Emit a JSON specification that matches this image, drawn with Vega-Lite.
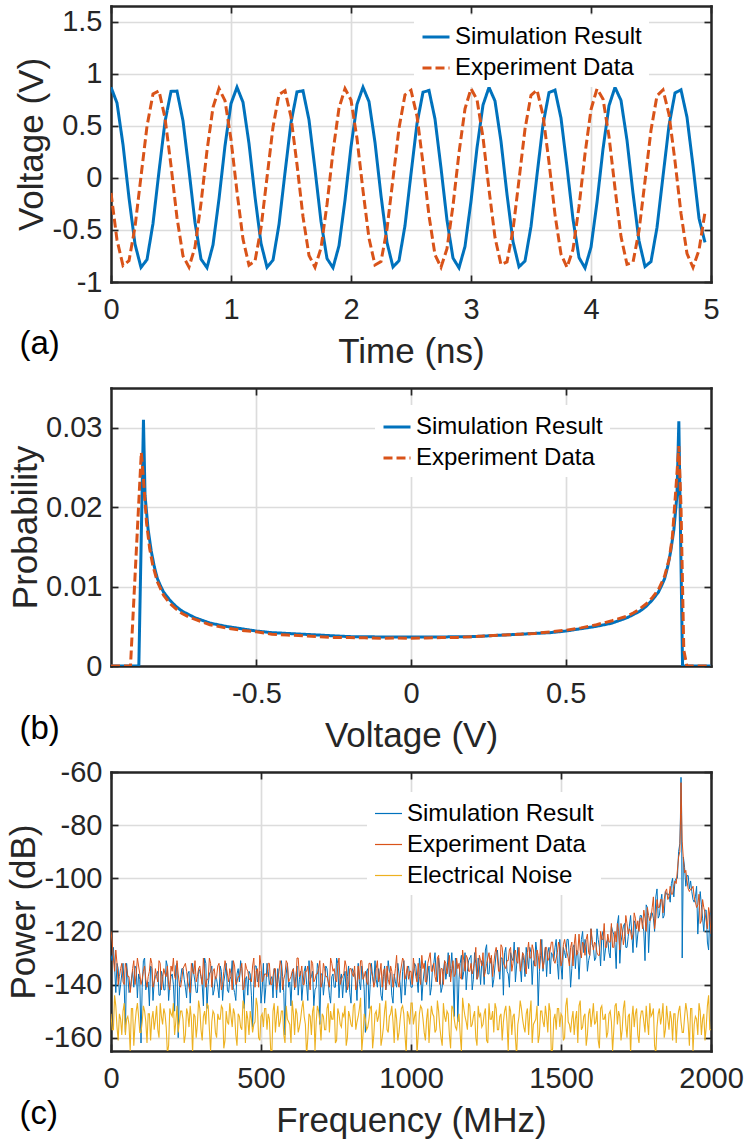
{
"$schema": "https://vega.github.io/schema/vega-lite/v6.json",
"padding": {"left": 5, "top": 5, "right": 5, "bottom": 5},
"config": {
 "font": "Liberation Sans",
 "view": {"stroke": null},
 "axis": {"labelFont": "Liberation Sans", "labelFontSize": 29, "labelColor": "#262626", "titleFont": "Liberation Sans", "titleFontSize": 35, "titleFontWeight": "normal", "titleColor": "#262626", "tickColor": "#262626", "tickWidth": 1.7, "tickSize": -7, "domainColor": "#262626", "domainWidth": 2.5, "domainCap": "square", "gridColor": "#dcdcdc", "gridWidth": 1.7, "labelFlush": false, "labelOverlap": false, "labelBound": false},
 "axisBottom": {"labelBaseline": "alphabetic", "labelPadding": 43.6, "titleBaseline": "alphabetic", "titleY": 80, "titleX": 300, "titleAlign": "center"},
 "axisLeft": {"labelPadding": 16, "titleAngle": -90, "titleBaseline": "alphabetic", "titleAlign": "center"},
 "axisTop": {"labels": false, "grid": false, "titleAngle": 0, "titleAlign": "left", "titleBaseline": "alphabetic", "titleX": -92, "titleColor": "#000000", "titleFontSize": 33},
 "axisRight": {"labels": false, "grid": false},
 "legend": {"orient": "none", "fillColor": "#ffffff", "padding": 7, "symbolType": "stroke", "symbolSize": 729, "labelFont": "Liberation Sans", "labelFontSize": 24, "labelColor": "#000000", "labelOffset": 4, "rowPadding": 4, "labelLimit": 400}
},
"datasets": {
"waveSim": [{"t":0,"v":0.870},{"t":0.05,"v":0.719},{"t":0.1,"v":0.319},{"t":0.15,"v":-0.192},{"t":0.2,"v":-0.636},{"t":0.25,"v":-0.860},{"t":0.3,"v":-0.785},{"t":0.35,"v":-0.438},{"t":0.4,"v":0.061},{"t":0.45,"v":0.539},{"t":0.5,"v":0.830},{"t":0.55,"v":0.833},{"t":0.6,"v":0.548},{"t":0.65,"v":0.072},{"t":0.7,"v":-0.428},{"t":0.75,"v":-0.780},{"t":0.8,"v":-0.862},{"t":0.85,"v":-0.644},{"t":0.9,"v":-0.203},{"t":0.95,"v":0.308},{"t":1,"v":0.713},{"t":1.05,"v":0.870},{"t":1.1,"v":0.726},{"t":1.15,"v":0.329},{"t":1.2,"v":-0.181},{"t":1.25,"v":-0.629},{"t":1.3,"v":-0.858},{"t":1.35,"v":-0.790},{"t":1.4,"v":-0.448},{"t":1.45,"v":0.049},{"t":1.5,"v":0.530},{"t":1.55,"v":0.826},{"t":1.6,"v":0.836},{"t":1.65,"v":0.556},{"t":1.7,"v":0.083},{"t":1.75,"v":-0.418},{"t":1.8,"v":-0.775},{"t":1.85,"v":-0.863},{"t":1.9,"v":-0.652},{"t":1.95,"v":-0.214},{"t":2,"v":0.298},{"t":2.05,"v":0.706},{"t":2.1,"v":0.870},{"t":2.15,"v":0.732},{"t":2.2,"v":0.340},{"t":2.25,"v":-0.170},{"t":2.3,"v":-0.621},{"t":2.35,"v":-0.856},{"t":2.4,"v":-0.795},{"t":2.45,"v":-0.458},{"t":2.5,"v":0.038},{"t":2.55,"v":0.521},{"t":2.6,"v":0.823},{"t":2.65,"v":0.839},{"t":2.7,"v":0.565},{"t":2.75,"v":0.095},{"t":2.8,"v":-0.408},{"t":2.85,"v":-0.770},{"t":2.9,"v":-0.864},{"t":2.95,"v":-0.659},{"t":3,"v":-0.225},{"t":3.05,"v":0.287},{"t":3.1,"v":0.699},{"t":3.15,"v":0.869},{"t":3.2,"v":0.738},{"t":3.25,"v":0.350},{"t":3.3,"v":-0.159},{"t":3.35,"v":-0.612},{"t":3.4,"v":-0.854},{"t":3.45,"v":-0.799},{"t":3.5,"v":-0.467},{"t":3.55,"v":0.027},{"t":3.6,"v":0.511},{"t":3.65,"v":0.819},{"t":3.7,"v":0.842},{"t":3.75,"v":0.574},{"t":3.8,"v":0.106},{"t":3.85,"v":-0.398},{"t":3.9,"v":-0.765},{"t":3.95,"v":-0.866},{"t":4,"v":-0.666},{"t":4.05,"v":-0.236},{"t":4.1,"v":0.276},{"t":4.15,"v":0.693},{"t":4.2,"v":0.869},{"t":4.25,"v":0.744},{"t":4.3,"v":0.361},{"t":4.35,"v":-0.147},{"t":4.4,"v":-0.604},{"t":4.45,"v":-0.852},{"t":4.5,"v":-0.804},{"t":4.55,"v":-0.477},{"t":4.6,"v":0.015},{"t":4.65,"v":0.502},{"t":4.7,"v":0.815},{"t":4.75,"v":0.845},{"t":4.8,"v":0.582},{"t":4.85,"v":0.117},{"t":4.9,"v":-0.388},{"t":4.95,"v":-0.62}],
"waveExp": [{"t":0,"v":-0.145},{"t":0.05,"v":-0.597},{"t":0.1,"v":-0.842},{"t":0.15,"v":-0.795},{"t":0.2,"v":-0.472},{"t":0.25,"v":0.014},{"t":0.3,"v":0.496},{"t":0.35,"v":0.805},{"t":0.4,"v":0.835},{"t":0.45,"v":0.576},{"t":0.5,"v":0.117},{"t":0.55,"v":-0.383},{"t":0.6,"v":-0.750},{"t":0.65,"v":-0.857},{"t":0.7,"v":-0.666},{"t":0.75,"v":-0.245},{"t":0.8,"v":0.261},{"t":0.85,"v":0.677},{"t":0.9,"v":0.858},{"t":0.95,"v":0.741},{"t":1,"v":0.368},{"t":1.05,"v":-0.134},{"t":1.1,"v":-0.589},{"t":1.15,"v":-0.839},{"t":1.2,"v":-0.799},{"t":1.25,"v":-0.482},{"t":1.3,"v":0.003},{"t":1.35,"v":0.487},{"t":1.4,"v":0.801},{"t":1.45,"v":0.838},{"t":1.5,"v":0.584},{"t":1.55,"v":0.128},{"t":1.6,"v":-0.373},{"t":1.65,"v":-0.745},{"t":1.7,"v":-0.858},{"t":1.75,"v":-0.674},{"t":1.8,"v":-0.256},{"t":1.85,"v":0.251},{"t":1.9,"v":0.670},{"t":1.95,"v":0.857},{"t":2,"v":0.747},{"t":2.05,"v":0.378},{"t":2.1,"v":-0.123},{"t":2.15,"v":-0.580},{"t":2.2,"v":-0.837},{"t":2.25,"v":-0.803},{"t":2.3,"v":-0.491},{"t":2.35,"v":-0.008},{"t":2.4,"v":0.477},{"t":2.45,"v":0.797},{"t":2.5,"v":0.841},{"t":2.55,"v":0.593},{"t":2.6,"v":0.139},{"t":2.65,"v":-0.363},{"t":2.7,"v":-0.739},{"t":2.75,"v":-0.858},{"t":2.8,"v":-0.680},{"t":2.85,"v":-0.266},{"t":2.9,"v":0.240},{"t":2.95,"v":0.663},{"t":3,"v":0.856},{"t":3.05,"v":0.752},{"t":3.1,"v":0.388},{"t":3.15,"v":-0.112},{"t":3.2,"v":-0.572},{"t":3.25,"v":-0.834},{"t":3.3,"v":-0.807},{"t":3.35,"v":-0.500},{"t":3.4,"v":-0.020},{"t":3.45,"v":0.468},{"t":3.5,"v":0.793},{"t":3.55,"v":0.843},{"t":3.6,"v":0.601},{"t":3.65,"v":0.150},{"t":3.7,"v":-0.353},{"t":3.75,"v":-0.733},{"t":3.8,"v":-0.859},{"t":3.85,"v":-0.687},{"t":3.9,"v":-0.277},{"t":3.95,"v":0.229},{"t":4,"v":0.656},{"t":4.05,"v":0.855},{"t":4.1,"v":0.758},{"t":4.15,"v":0.398},{"t":4.2,"v":-0.100},{"t":4.25,"v":-0.564},{"t":4.3,"v":-0.831},{"t":4.35,"v":-0.811},{"t":4.4,"v":-0.509},{"t":4.45,"v":-0.031},{"t":4.5,"v":0.458},{"t":4.55,"v":0.788},{"t":4.6,"v":0.845},{"t":4.65,"v":0.609},{"t":4.7,"v":0.161},{"t":4.75,"v":-0.342},{"t":4.8,"v":-0.727},{"t":4.85,"v":-0.860},{"t":4.9,"v":-0.694},{"t":4.95,"v":-0.33}],
"pdfSim": [{"x":-0.97,"p":0},{"x":-0.88,"p":0},{"x":-0.865,"p":0.031},{"x":-0.86,"p":0.0215},{"x":-0.85,"p":0.0172},{"x":-0.84,"p":0.0145},{"x":-0.83,"p":0.0125},{"x":-0.82,"p":0.011},{"x":-0.81,"p":0.0101},{"x":-0.8,"p":0.0093},{"x":-0.78,"p":0.0083},{"x":-0.76,"p":0.0075},{"x":-0.74,"p":0.0069},{"x":-0.72,"p":0.0065},{"x":-0.7,"p":0.0061},{"x":-0.65,"p":0.0054},{"x":-0.6,"p":0.005},{"x":-0.55,"p":0.0047},{"x":-0.5,"p":0.0044},{"x":-0.45,"p":0.0042},{"x":-0.4,"p":0.0041},{"x":-0.35,"p":0.004},{"x":-0.3,"p":0.0039},{"x":-0.25,"p":0.0038},{"x":-0.2,"p":0.0037},{"x":-0.15,"p":0.00368},{"x":-0.1,"p":0.00366},{"x":-0.05,"p":0.00365},{"x":0,"p":0.00364},{"x":0.05,"p":0.00365},{"x":0.1,"p":0.00366},{"x":0.15,"p":0.00368},{"x":0.2,"p":0.0037},{"x":0.25,"p":0.0038},{"x":0.3,"p":0.0039},{"x":0.35,"p":0.004},{"x":0.4,"p":0.0041},{"x":0.45,"p":0.0042},{"x":0.5,"p":0.0044},{"x":0.55,"p":0.0047},{"x":0.6,"p":0.005},{"x":0.65,"p":0.0054},{"x":0.7,"p":0.0061},{"x":0.72,"p":0.0065},{"x":0.74,"p":0.0069},{"x":0.76,"p":0.0075},{"x":0.78,"p":0.0083},{"x":0.8,"p":0.0093},{"x":0.81,"p":0.0101},{"x":0.82,"p":0.011},{"x":0.83,"p":0.0125},{"x":0.84,"p":0.0145},{"x":0.85,"p":0.0172},{"x":0.86,"p":0.0215},{"x":0.866,"p":0.0308},{"x":0.878,"p":0},{"x":0.97,"p":0}],
"pdfExp": [{"x":-0.97,"p":0},{"x":-0.907,"p":0},{"x":-0.872,"p":0.0269},{"x":-0.865,"p":0.0235},{"x":-0.855,"p":0.018},{"x":-0.845,"p":0.0148},{"x":-0.835,"p":0.0127},{"x":-0.82,"p":0.0106},{"x":-0.8,"p":0.0089},{"x":-0.78,"p":0.0079},{"x":-0.76,"p":0.0072},{"x":-0.74,"p":0.0066},{"x":-0.72,"p":0.0062},{"x":-0.7,"p":0.0059},{"x":-0.65,"p":0.0052},{"x":-0.6,"p":0.0048},{"x":-0.55,"p":0.0045},{"x":-0.5,"p":0.0043},{"x":-0.45,"p":0.004},{"x":-0.4,"p":0.0039},{"x":-0.35,"p":0.0038},{"x":-0.3,"p":0.0037},{"x":-0.25,"p":0.0036},{"x":-0.2,"p":0.00358},{"x":-0.15,"p":0.00355},{"x":-0.1,"p":0.0035},{"x":-0.05,"p":0.00352},{"x":0,"p":0.0035},{"x":0.05,"p":0.00352},{"x":0.1,"p":0.00358},{"x":0.15,"p":0.0036},{"x":0.2,"p":0.0037},{"x":0.25,"p":0.0038},{"x":0.3,"p":0.0039},{"x":0.35,"p":0.004},{"x":0.4,"p":0.0041},{"x":0.45,"p":0.0043},{"x":0.5,"p":0.0045},{"x":0.55,"p":0.0048},{"x":0.6,"p":0.0052},{"x":0.65,"p":0.0057},{"x":0.7,"p":0.0063},{"x":0.72,"p":0.0067},{"x":0.74,"p":0.0072},{"x":0.76,"p":0.0078},{"x":0.78,"p":0.0086},{"x":0.8,"p":0.0096},{"x":0.82,"p":0.0113},{"x":0.835,"p":0.0135},{"x":0.845,"p":0.0162},{"x":0.855,"p":0.0215},{"x":0.866,"p":0.0277},{"x":0.873,"p":0.02},{"x":0.882,"p":0.002},{"x":0.892,"p":0},{"x":0.97,"p":0}],
"specSim": [{"f":0,"p":-129},{"f":8,"p":-126},{"f":16,"p":-143},{"f":24,"p":-134},{"f":32,"p":-140},{"f":40,"p":-132},{"f":48,"p":-158},{"f":56,"p":-137},{"f":64,"p":-142},{"f":72,"p":-135},{"f":80,"p":-133},{"f":88,"p":-145},{"f":96,"p":-138},{"f":104,"p":-141},{"f":112,"p":-130},{"f":120,"p":-140},{"f":128,"p":-148},{"f":136,"p":-134},{"f":144,"p":-139},{"f":152,"p":-136},{"f":160,"p":-144},{"f":168,"p":-135},{"f":176,"p":-142},{"f":184,"p":-131},{"f":192,"p":-146},{"f":200,"p":-137},{"f":208,"p":-140},{"f":216,"p":-133},{"f":224,"p":-160},{"f":232,"p":-138},{"f":240,"p":-134},{"f":248,"p":-141},{"f":256,"p":-136},{"f":264,"p":-147},{"f":272,"p":-132},{"f":280,"p":-139},{"f":288,"p":-143},{"f":296,"p":-135},{"f":304,"p":-140},{"f":312,"p":-130},{"f":320,"p":-149},{"f":328,"p":-136},{"f":336,"p":-133},{"f":344,"p":-142},{"f":352,"p":-138},{"f":360,"p":-145},{"f":368,"p":-135},{"f":376,"p":-139},{"f":384,"p":-132},{"f":392,"p":-143},{"f":400,"p":-137},{"f":408,"p":-141},{"f":416,"p":-146},{"f":424,"p":-134},{"f":432,"p":-131},{"f":440,"p":-140},{"f":448,"p":-138},{"f":456,"p":-144},{"f":464,"p":-136},{"f":472,"p":-156},{"f":480,"p":-133},{"f":488,"p":-139},{"f":496,"p":-135},{"f":504,"p":-142},{"f":512,"p":-147},{"f":520,"p":-132},{"f":528,"p":-140},{"f":536,"p":-137},{"f":544,"p":-134},{"f":552,"p":-145},{"f":560,"p":-138},{"f":568,"p":-131},{"f":576,"p":-143},{"f":584,"p":-136},{"f":592,"p":-141},{"f":600,"p":-148},{"f":608,"p":-134},{"f":616,"p":-137},{"f":624,"p":-144},{"f":632,"p":-135},{"f":640,"p":-140},{"f":648,"p":-133},{"f":656,"p":-146},{"f":664,"p":-138},{"f":672,"p":-135},{"f":680,"p":-142},{"f":688,"p":-132},{"f":696,"p":-155},{"f":704,"p":-136},{"f":712,"p":-139},{"f":720,"p":-134},{"f":728,"p":-144},{"f":736,"p":-137},{"f":744,"p":-141},{"f":752,"p":-130},{"f":760,"p":-145},{"f":768,"p":-136},{"f":776,"p":-138},{"f":784,"p":-143},{"f":792,"p":-133},{"f":800,"p":-147},{"f":808,"p":-135},{"f":816,"p":-139},{"f":824,"p":-132},{"f":832,"p":-142},{"f":840,"p":-136},{"f":848,"p":-158},{"f":856,"p":-134},{"f":864,"p":-140},{"f":872,"p":-137},{"f":880,"p":-131},{"f":888,"p":-141},{"f":896,"p":-138},{"f":904,"p":-146},{"f":912,"p":-133},{"f":920,"p":-139},{"f":928,"p":-135},{"f":936,"p":-144},{"f":944,"p":-136},{"f":952,"p":-141},{"f":960,"p":-136},{"f":968,"p":-147},{"f":976,"p":-131},{"f":984,"p":-139},{"f":992,"p":-133},{"f":1000,"p":-141},{"f":1008,"p":-136},{"f":1016,"p":-133},{"f":1024,"p":-143},{"f":1032,"p":-134},{"f":1040,"p":-139},{"f":1048,"p":-131},{"f":1056,"p":-136},{"f":1064,"p":-144},{"f":1072,"p":-133},{"f":1080,"p":-128},{"f":1088,"p":-139},{"f":1096,"p":-134},{"f":1104,"p":-141},{"f":1112,"p":-131},{"f":1120,"p":-135},{"f":1128,"p":-137},{"f":1136,"p":-128},{"f":1144,"p":-152},{"f":1152,"p":-131},{"f":1160,"p":-138},{"f":1168,"p":-129},{"f":1176,"p":-135},{"f":1184,"p":-142},{"f":1192,"p":-131},{"f":1200,"p":-129},{"f":1208,"p":-138},{"f":1216,"p":-132},{"f":1224,"p":-130},{"f":1232,"p":-140},{"f":1240,"p":-133},{"f":1248,"p":-127},{"f":1256,"p":-136},{"f":1264,"p":-130},{"f":1272,"p":-141},{"f":1280,"p":-133},{"f":1288,"p":-127},{"f":1296,"p":-138},{"f":1304,"p":-130},{"f":1312,"p":-128},{"f":1320,"p":-135},{"f":1328,"p":-141},{"f":1336,"p":-130},{"f":1344,"p":-124},{"f":1352,"p":-133},{"f":1360,"p":-128},{"f":1368,"p":-139},{"f":1376,"p":-131},{"f":1384,"p":-126},{"f":1392,"p":-134},{"f":1400,"p":-128},{"f":1408,"p":-131},{"f":1416,"p":-124},{"f":1424,"p":-148},{"f":1432,"p":-129},{"f":1440,"p":-135},{"f":1448,"p":-126},{"f":1456,"p":-128},{"f":1464,"p":-136},{"f":1472,"p":-129},{"f":1480,"p":-126},{"f":1488,"p":-132},{"f":1496,"p":-123},{"f":1504,"p":-138},{"f":1512,"p":-128},{"f":1520,"p":-123},{"f":1528,"p":-130},{"f":1536,"p":-134},{"f":1544,"p":-125},{"f":1552,"p":-127},{"f":1560,"p":-138},{"f":1568,"p":-123},{"f":1576,"p":-128},{"f":1584,"p":-125},{"f":1592,"p":-131},{"f":1600,"p":-119},{"f":1608,"p":-126},{"f":1616,"p":-130},{"f":1624,"p":-123},{"f":1632,"p":-133},{"f":1640,"p":-120},{"f":1648,"p":-127},{"f":1656,"p":-123},{"f":1664,"p":-130},{"f":1672,"p":-120},{"f":1680,"p":-125},{"f":1688,"p":-117},{"f":1696,"p":-132},{"f":1704,"p":-121},{"f":1712,"p":-117},{"f":1720,"p":-126},{"f":1728,"p":-118},{"f":1736,"p":-121},{"f":1744,"p":-116},{"f":1752,"p":-126},{"f":1760,"p":-118},{"f":1768,"p":-114},{"f":1776,"p":-120},{"f":1784,"p":-110},{"f":1792,"p":-128},{"f":1800,"p":-113},{"f":1808,"p":-115},{"f":1816,"p":-107},{"f":1824,"p":-115},{"f":1832,"p":-109},{"f":1840,"p":-115},{"f":1848,"p":-105},{"f":1856,"p":-106},{"f":1864,"p":-109},{"f":1872,"p":-100},{"f":1880,"p":-101},{"f":1888,"p":-100},{"f":1896,"p":-87},{"f":1900,"p":-62},{"f":1904,"p":-130},{"f":1912,"p":-96},{"f":1920,"p":-99},{"f":1928,"p":-104},{"f":1936,"p":-105},{"f":1944,"p":-109},{"f":1952,"p":-103},{"f":1960,"p":-112},{"f":1968,"p":-110},{"f":1976,"p":-120},{"f":1984,"p":-112},{"f":1992,"p":-127},{"f":2000,"p":-122},
{"f":4,"p":-131},{"f":12,"p":-133},{"f":20,"p":-132},{"f":28,"p":-144},{"f":36,"p":-136},{"f":44,"p":-140},{"f":52,"p":-132},{"f":60,"p":-143},{"f":68,"p":-138},{"f":76,"p":-141},{"f":84,"p":-134},{"f":92,"p":-136},{"f":100,"p":-162},{"f":108,"p":-131},{"f":116,"p":-142},{"f":124,"p":-139},{"f":132,"p":-133},{"f":140,"p":-146},{"f":148,"p":-137},{"f":156,"p":-135},{"f":164,"p":-144},{"f":172,"p":-137},{"f":180,"p":-142},{"f":188,"p":-133},{"f":196,"p":-140},{"f":204,"p":-136},{"f":212,"p":-150},{"f":220,"p":-132},{"f":228,"p":-141},{"f":236,"p":-134},{"f":244,"p":-138},{"f":252,"p":-145},{"f":260,"p":-135},{"f":268,"p":-139},{"f":276,"p":-136},{"f":284,"p":-143},{"f":292,"p":-134},{"f":300,"p":-137},{"f":308,"p":-148},{"f":316,"p":-132},{"f":324,"p":-140},{"f":332,"p":-135},{"f":340,"p":-144},{"f":348,"p":-137},{"f":356,"p":-141},{"f":364,"p":-133},{"f":372,"p":-146},{"f":380,"p":-136},{"f":388,"p":-142},{"f":396,"p":-138},{"f":404,"p":-131},{"f":412,"p":-143},{"f":420,"p":-136},{"f":428,"p":-139},{"f":436,"p":-134},{"f":444,"p":-149},{"f":452,"p":-137},{"f":460,"p":-135},{"f":468,"p":-144},{"f":476,"p":-140},{"f":484,"p":-133},{"f":492,"p":-137},{"f":500,"p":-147},{"f":508,"p":-132},{"f":516,"p":-141},{"f":524,"p":-135},{"f":532,"p":-138},{"f":540,"p":-145},{"f":548,"p":-136},{"f":556,"p":-134},{"f":564,"p":-143},{"f":572,"p":-137},{"f":580,"p":-159},{"f":588,"p":-132},{"f":596,"p":-139},{"f":604,"p":-136},{"f":612,"p":-142},{"f":620,"p":-133},{"f":628,"p":-138},{"f":636,"p":-146},{"f":644,"p":-135},{"f":652,"p":-140},{"f":660,"p":-131},{"f":668,"p":-137},{"f":676,"p":-148},{"f":684,"p":-141},{"f":692,"p":-134},{"f":700,"p":-136},{"f":708,"p":-144},{"f":716,"p":-133},{"f":724,"p":-139},{"f":732,"p":-147},{"f":740,"p":-136},{"f":748,"p":-141},{"f":756,"p":-132},{"f":764,"p":-138},{"f":772,"p":-145},{"f":780,"p":-135},{"f":788,"p":-137},{"f":796,"p":-143},{"f":804,"p":-134},{"f":812,"p":-136},{"f":820,"p":-146},{"f":828,"p":-139},{"f":836,"p":-133},{"f":844,"p":-142},{"f":852,"p":-135},{"f":860,"p":-149},{"f":868,"p":-132},{"f":876,"p":-140},{"f":884,"p":-138},{"f":892,"p":-134},{"f":900,"p":-144},{"f":908,"p":-137},{"f":916,"p":-142},{"f":924,"p":-131},{"f":932,"p":-136},{"f":940,"p":-147},{"f":948,"p":-139},{"f":956,"p":-132},{"f":964,"p":-140},{"f":972,"p":-135},{"f":980,"p":-144},{"f":988,"p":-134},{"f":996,"p":-137},{"f":1004,"p":-141},{"f":1012,"p":-132},{"f":1020,"p":-138},{"f":1028,"p":-130},{"f":1036,"p":-146},{"f":1044,"p":-135},{"f":1052,"p":-140},{"f":1060,"p":-133},{"f":1068,"p":-141},{"f":1076,"p":-132},{"f":1084,"p":-136},{"f":1092,"p":-130},{"f":1100,"p":-143},{"f":1108,"p":-135},{"f":1116,"p":-138},{"f":1124,"p":-128},{"f":1132,"p":-134},{"f":1140,"p":-136},{"f":1148,"p":-130},{"f":1156,"p":-154},{"f":1164,"p":-132},{"f":1172,"p":-138},{"f":1180,"p":-128},{"f":1188,"p":-135},{"f":1196,"p":-130},{"f":1204,"p":-142},{"f":1212,"p":-128},{"f":1220,"p":-138},{"f":1228,"p":-133},{"f":1236,"p":-131},{"f":1244,"p":-140},{"f":1252,"p":-125},{"f":1260,"p":-136},{"f":1268,"p":-131},{"f":1276,"p":-138},{"f":1284,"p":-128},{"f":1292,"p":-133},{"f":1300,"p":-130},{"f":1308,"p":-144},{"f":1316,"p":-126},{"f":1324,"p":-136},{"f":1332,"p":-128},{"f":1340,"p":-131},{"f":1348,"p":-139},{"f":1356,"p":-126},{"f":1364,"p":-133},{"f":1372,"p":-128},{"f":1380,"p":-137},{"f":1388,"p":-130},{"f":1396,"p":-126},{"f":1404,"p":-140},{"f":1412,"p":-133},{"f":1420,"p":-128},{"f":1428,"p":-135},{"f":1436,"p":-123},{"f":1444,"p":-130},{"f":1452,"p":-137},{"f":1460,"p":-126},{"f":1468,"p":-128},{"f":1476,"p":-131},{"f":1484,"p":-123},{"f":1492,"p":-138},{"f":1500,"p":-133},{"f":1508,"p":-126},{"f":1516,"p":-130},{"f":1524,"p":-123},{"f":1532,"p":-141},{"f":1540,"p":-126},{"f":1548,"p":-134},{"f":1556,"p":-128},{"f":1564,"p":-129},{"f":1572,"p":-120},{"f":1580,"p":-123},{"f":1588,"p":-135},{"f":1596,"p":-129},{"f":1604,"p":-125},{"f":1612,"p":-131},{"f":1620,"p":-119},{"f":1628,"p":-126},{"f":1636,"p":-122},{"f":1644,"p":-131},{"f":1652,"p":-124},{"f":1660,"p":-128},{"f":1668,"p":-118},{"f":1676,"p":-121},{"f":1684,"p":-134},{"f":1692,"p":-114},{"f":1700,"p":-124},{"f":1708,"p":-118},{"f":1716,"p":-126},{"f":1724,"p":-122},{"f":1732,"p":-114},{"f":1740,"p":-128},{"f":1748,"p":-117},{"f":1756,"p":-121},{"f":1764,"p":-114},{"f":1772,"p":-117},{"f":1780,"p":-131},{"f":1788,"p":-111},{"f":1796,"p":-117},{"f":1804,"p":-113},{"f":1812,"p":-120},{"f":1820,"p":-104},{"f":1828,"p":-114},{"f":1836,"p":-106},{"f":1844,"p":-114},{"f":1852,"p":-106},{"f":1860,"p":-106},{"f":1868,"p":-102},{"f":1876,"p":-107},{"f":1884,"p":-100},{"f":1892,"p":-90},{"f":1898,"p":-78},{"f":1902,"p":-74},{"f":1908,"p":-92},{"f":1916,"p":-103},{"f":1924,"p":-99},{"f":1932,"p":-101},{"f":1940,"p":-108},{"f":1948,"p":-107},{"f":1956,"p":-121},{"f":1964,"p":-105},{"f":1972,"p":-115},{"f":1980,"p":-112},{"f":1988,"p":-124},{"f":1996,"p":-113}],
"specExp": [{"f":0,"p":-120},{"f":8,"p":-130},{"f":16,"p":-127},{"f":24,"p":-140},{"f":32,"p":-134},{"f":40,"p":-139},{"f":48,"p":-132},{"f":56,"p":-137},{"f":64,"p":-143},{"f":72,"p":-134},{"f":80,"p":-140},{"f":88,"p":-130},{"f":96,"p":-136},{"f":104,"p":-138},{"f":112,"p":-133},{"f":120,"p":-141},{"f":128,"p":-135},{"f":136,"p":-132},{"f":144,"p":-139},{"f":152,"p":-137},{"f":160,"p":-131},{"f":168,"p":-142},{"f":176,"p":-134},{"f":184,"p":-137},{"f":192,"p":-140},{"f":200,"p":-133},{"f":208,"p":-130},{"f":216,"p":-138},{"f":224,"p":-136},{"f":232,"p":-141},{"f":240,"p":-134},{"f":248,"p":-132},{"f":256,"p":-139},{"f":264,"p":-143},{"f":272,"p":-135},{"f":280,"p":-131},{"f":288,"p":-137},{"f":296,"p":-133},{"f":304,"p":-140},{"f":312,"p":-136},{"f":320,"p":-138},{"f":328,"p":-130},{"f":336,"p":-141},{"f":344,"p":-134},{"f":352,"p":-137},{"f":360,"p":-132},{"f":368,"p":-142},{"f":376,"p":-135},{"f":384,"p":-133},{"f":392,"p":-139},{"f":400,"p":-136},{"f":408,"p":-131},{"f":416,"p":-140},{"f":424,"p":-137},{"f":432,"p":-134},{"f":440,"p":-142},{"f":448,"p":-132},{"f":456,"p":-135},{"f":464,"p":-138},{"f":472,"p":-133},{"f":480,"p":-141},{"f":488,"p":-134},{"f":496,"p":-129},{"f":504,"p":-139},{"f":512,"p":-136},{"f":520,"p":-137},{"f":528,"p":-132},{"f":536,"p":-140},{"f":544,"p":-134},{"f":552,"p":-142},{"f":560,"p":-135},{"f":568,"p":-133},{"f":576,"p":-138},{"f":584,"p":-131},{"f":592,"p":-139},{"f":600,"p":-137},{"f":608,"p":-134},{"f":616,"p":-141},{"f":624,"p":-130},{"f":632,"p":-136},{"f":640,"p":-140},{"f":648,"p":-135},{"f":656,"p":-133},{"f":664,"p":-142},{"f":672,"p":-132},{"f":680,"p":-138},{"f":688,"p":-136},{"f":696,"p":-131},{"f":704,"p":-139},{"f":712,"p":-134},{"f":720,"p":-137},{"f":728,"p":-141},{"f":736,"p":-132},{"f":744,"p":-134},{"f":752,"p":-139},{"f":760,"p":-130},{"f":768,"p":-138},{"f":776,"p":-136},{"f":784,"p":-133},{"f":792,"p":-140},{"f":800,"p":-134},{"f":808,"p":-137},{"f":816,"p":-142},{"f":824,"p":-133},{"f":832,"p":-131},{"f":840,"p":-138},{"f":848,"p":-135},{"f":856,"p":-140},{"f":864,"p":-132},{"f":872,"p":-137},{"f":880,"p":-139},{"f":888,"p":-131},{"f":896,"p":-136},{"f":904,"p":-141},{"f":912,"p":-134},{"f":920,"p":-133},{"f":928,"p":-140},{"f":936,"p":-135},{"f":944,"p":-138},{"f":952,"p":-129},{"f":960,"p":-141},{"f":968,"p":-133},{"f":976,"p":-131},{"f":984,"p":-136},{"f":992,"p":-138},{"f":1000,"p":-135},{"f":1008,"p":-130},{"f":1016,"p":-137},{"f":1024,"p":-132},{"f":1032,"p":-140},{"f":1040,"p":-134},{"f":1048,"p":-139},{"f":1056,"p":-132},{"f":1064,"p":-128},{"f":1072,"p":-135},{"f":1080,"p":-137},{"f":1088,"p":-130},{"f":1096,"p":-140},{"f":1104,"p":-134},{"f":1112,"p":-131},{"f":1120,"p":-136},{"f":1128,"p":-129},{"f":1136,"p":-134},{"f":1144,"p":-137},{"f":1152,"p":-130},{"f":1160,"p":-132},{"f":1168,"p":-138},{"f":1176,"p":-131},{"f":1184,"p":-129},{"f":1192,"p":-135},{"f":1200,"p":-132},{"f":1208,"p":-134},{"f":1216,"p":-126},{"f":1224,"p":-137},{"f":1232,"p":-131},{"f":1240,"p":-128},{"f":1248,"p":-135},{"f":1256,"p":-130},{"f":1264,"p":-132},{"f":1272,"p":-137},{"f":1280,"p":-128},{"f":1288,"p":-130},{"f":1296,"p":-135},{"f":1304,"p":-126},{"f":1312,"p":-133},{"f":1320,"p":-131},{"f":1328,"p":-127},{"f":1336,"p":-135},{"f":1344,"p":-128},{"f":1352,"p":-131},{"f":1360,"p":-126},{"f":1368,"p":-133},{"f":1376,"p":-129},{"f":1384,"p":-136},{"f":1392,"p":-124},{"f":1400,"p":-130},{"f":1408,"p":-127},{"f":1416,"p":-133},{"f":1424,"p":-129},{"f":1432,"p":-123},{"f":1440,"p":-134},{"f":1448,"p":-126},{"f":1456,"p":-131},{"f":1464,"p":-127},{"f":1472,"p":-124},{"f":1480,"p":-132},{"f":1488,"p":-128},{"f":1496,"p":-126},{"f":1504,"p":-131},{"f":1512,"p":-123},{"f":1520,"p":-128},{"f":1528,"p":-133},{"f":1536,"p":-124},{"f":1544,"p":-125},{"f":1552,"p":-129},{"f":1560,"p":-121},{"f":1568,"p":-130},{"f":1576,"p":-125},{"f":1584,"p":-123},{"f":1592,"p":-128},{"f":1600,"p":-119},{"f":1608,"p":-127},{"f":1616,"p":-125},{"f":1624,"p":-129},{"f":1632,"p":-120},{"f":1640,"p":-123},{"f":1648,"p":-126},{"f":1656,"p":-121},{"f":1664,"p":-124},{"f":1672,"p":-126},{"f":1680,"p":-120},{"f":1688,"p":-117},{"f":1696,"p":-127},{"f":1704,"p":-120},{"f":1712,"p":-122},{"f":1720,"p":-117},{"f":1728,"p":-119},{"f":1736,"p":-123},{"f":1744,"p":-113},{"f":1752,"p":-119},{"f":1760,"p":-120},{"f":1768,"p":-115},{"f":1776,"p":-112},{"f":1784,"p":-120},{"f":1792,"p":-114},{"f":1800,"p":-115},{"f":1808,"p":-107},{"f":1816,"p":-115},{"f":1824,"p":-111},{"f":1832,"p":-108},{"f":1840,"p":-113},{"f":1848,"p":-105},{"f":1856,"p":-108},{"f":1864,"p":-103},{"f":1872,"p":-106},{"f":1880,"p":-101},{"f":1888,"p":-97},{"f":1896,"p":-90},{"f":1900,"p":-64},{"f":1904,"p":-86},{"f":1912,"p":-98},{"f":1920,"p":-101},{"f":1928,"p":-105},{"f":1936,"p":-104},{"f":1944,"p":-107},{"f":1952,"p":-111},{"f":1960,"p":-106},{"f":1968,"p":-116},{"f":1976,"p":-111},{"f":1984,"p":-116},{"f":1992,"p":-111},{"f":2000,"p":-121},
{"f":4,"p":-124},{"f":12,"p":-135},{"f":20,"p":-132},{"f":28,"p":-137},{"f":36,"p":-132},{"f":44,"p":-140},{"f":52,"p":-134},{"f":60,"p":-137},{"f":68,"p":-139},{"f":76,"p":-131},{"f":84,"p":-136},{"f":92,"p":-133},{"f":100,"p":-140},{"f":108,"p":-135},{"f":116,"p":-138},{"f":124,"p":-137},{"f":132,"p":-130},{"f":140,"p":-141},{"f":148,"p":-134},{"f":156,"p":-139},{"f":164,"p":-132},{"f":172,"p":-138},{"f":180,"p":-136},{"f":188,"p":-133},{"f":196,"p":-142},{"f":204,"p":-135},{"f":212,"p":-137},{"f":220,"p":-131},{"f":228,"p":-140},{"f":236,"p":-138},{"f":244,"p":-133},{"f":252,"p":-135},{"f":260,"p":-141},{"f":268,"p":-132},{"f":276,"p":-136},{"f":284,"p":-139},{"f":292,"p":-134},{"f":300,"p":-137},{"f":308,"p":-130},{"f":316,"p":-141},{"f":324,"p":-138},{"f":332,"p":-132},{"f":340,"p":-135},{"f":348,"p":-138},{"f":356,"p":-133},{"f":364,"p":-137},{"f":372,"p":-140},{"f":380,"p":-131},{"f":388,"p":-136},{"f":396,"p":-134},{"f":404,"p":-142},{"f":412,"p":-133},{"f":420,"p":-139},{"f":428,"p":-137},{"f":436,"p":-132},{"f":444,"p":-141},{"f":452,"p":-134},{"f":460,"p":-138},{"f":468,"p":-139},{"f":476,"p":-130},{"f":484,"p":-135},{"f":492,"p":-141},{"f":500,"p":-133},{"f":508,"p":-138},{"f":516,"p":-136},{"f":524,"p":-132},{"f":532,"p":-140},{"f":540,"p":-137},{"f":548,"p":-134},{"f":556,"p":-139},{"f":564,"p":-131},{"f":572,"p":-142},{"f":580,"p":-136},{"f":588,"p":-132},{"f":596,"p":-138},{"f":604,"p":-135},{"f":612,"p":-141},{"f":620,"p":-130},{"f":628,"p":-137},{"f":636,"p":-133},{"f":644,"p":-140},{"f":652,"p":-135},{"f":660,"p":-138},{"f":668,"p":-131},{"f":676,"p":-139},{"f":684,"p":-136},{"f":692,"p":-134},{"f":700,"p":-141},{"f":708,"p":-132},{"f":716,"p":-137},{"f":724,"p":-139},{"f":732,"p":-130},{"f":740,"p":-135},{"f":748,"p":-138},{"f":756,"p":-133},{"f":764,"p":-140},{"f":772,"p":-137},{"f":780,"p":-131},{"f":788,"p":-142},{"f":796,"p":-134},{"f":804,"p":-136},{"f":812,"p":-133},{"f":820,"p":-140},{"f":828,"p":-138},{"f":836,"p":-131},{"f":844,"p":-137},{"f":852,"p":-139},{"f":860,"p":-132},{"f":868,"p":-135},{"f":876,"p":-141},{"f":884,"p":-134},{"f":892,"p":-139},{"f":900,"p":-132},{"f":908,"p":-135},{"f":916,"p":-142},{"f":924,"p":-138},{"f":932,"p":-133},{"f":940,"p":-141},{"f":948,"p":-134},{"f":956,"p":-139},{"f":964,"p":-136},{"f":972,"p":-130},{"f":980,"p":-138},{"f":988,"p":-133},{"f":996,"p":-135},{"f":1004,"p":-140},{"f":1012,"p":-134},{"f":1020,"p":-139},{"f":1028,"p":-137},{"f":1036,"p":-129},{"f":1044,"p":-132},{"f":1052,"p":-139},{"f":1060,"p":-130},{"f":1068,"p":-135},{"f":1076,"p":-132},{"f":1084,"p":-139},{"f":1092,"p":-129},{"f":1100,"p":-134},{"f":1108,"p":-140},{"f":1116,"p":-132},{"f":1124,"p":-133},{"f":1132,"p":-139},{"f":1140,"p":-131},{"f":1148,"p":-136},{"f":1156,"p":-134},{"f":1164,"p":-137},{"f":1172,"p":-127},{"f":1180,"p":-135},{"f":1188,"p":-130},{"f":1196,"p":-135},{"f":1204,"p":-136},{"f":1212,"p":-131},{"f":1220,"p":-138},{"f":1228,"p":-129},{"f":1236,"p":-133},{"f":1244,"p":-137},{"f":1252,"p":-132},{"f":1260,"p":-128},{"f":1268,"p":-129},{"f":1276,"p":-132},{"f":1284,"p":-126},{"f":1292,"p":-135},{"f":1300,"p":-125},{"f":1308,"p":-132},{"f":1316,"p":-134},{"f":1324,"p":-131},{"f":1332,"p":-126},{"f":1340,"p":-132},{"f":1348,"p":-127},{"f":1356,"p":-132},{"f":1364,"p":-135},{"f":1372,"p":-128},{"f":1380,"p":-133},{"f":1388,"p":-128},{"f":1396,"p":-130},{"f":1404,"p":-125},{"f":1412,"p":-133},{"f":1420,"p":-127},{"f":1428,"p":-134},{"f":1436,"p":-130},{"f":1444,"p":-131},{"f":1452,"p":-126},{"f":1460,"p":-130},{"f":1468,"p":-124},{"f":1476,"p":-131},{"f":1484,"p":-130},{"f":1492,"p":-124},{"f":1500,"p":-133},{"f":1508,"p":-125},{"f":1516,"p":-126},{"f":1524,"p":-130},{"f":1532,"p":-126},{"f":1540,"p":-133},{"f":1548,"p":-121},{"f":1556,"p":-128},{"f":1564,"p":-127},{"f":1572,"p":-124},{"f":1580,"p":-129},{"f":1588,"p":-121},{"f":1596,"p":-129},{"f":1604,"p":-123},{"f":1612,"p":-124},{"f":1620,"p":-128},{"f":1628,"p":-129},{"f":1636,"p":-123},{"f":1644,"p":-117},{"f":1652,"p":-126},{"f":1660,"p":-124},{"f":1668,"p":-117},{"f":1676,"p":-126},{"f":1684,"p":-124},{"f":1692,"p":-120},{"f":1700,"p":-117},{"f":1708,"p":-125},{"f":1716,"p":-114},{"f":1724,"p":-121},{"f":1732,"p":-120},{"f":1740,"p":-121},{"f":1748,"p":-115},{"f":1756,"p":-116},{"f":1764,"p":-115},{"f":1772,"p":-119},{"f":1780,"p":-115},{"f":1788,"p":-111},{"f":1796,"p":-116},{"f":1804,"p":-111},{"f":1812,"p":-119},{"f":1820,"p":-108},{"f":1828,"p":-111},{"f":1836,"p":-108},{"f":1844,"p":-108},{"f":1852,"p":-104},{"f":1860,"p":-107},{"f":1868,"p":-106},{"f":1876,"p":-103},{"f":1884,"p":-102},{"f":1892,"p":-92},{"f":1898,"p":-80},{"f":1902,"p":-76},{"f":1908,"p":-93},{"f":1916,"p":-97},{"f":1924,"p":-104},{"f":1932,"p":-104},{"f":1940,"p":-103},{"f":1948,"p":-109},{"f":1956,"p":-110},{"f":1964,"p":-117},{"f":1972,"p":-108},{"f":1980,"p":-113},{"f":1988,"p":-119},{"f":1996,"p":-114}],
"specNoise": [{"f":0,"p":-151},{"f":8,"p":-157},{"f":16,"p":-148},{"f":24,"p":-161},{"f":32,"p":-153},{"f":40,"p":-150},{"f":48,"p":-159},{"f":56,"p":-152},{"f":64,"p":-165},{"f":72,"p":-149},{"f":80,"p":-155},{"f":88,"p":-147},{"f":96,"p":-158},{"f":104,"p":-154},{"f":112,"p":-150},{"f":120,"p":-162},{"f":128,"p":-151},{"f":136,"p":-153},{"f":144,"p":-157},{"f":152,"p":-148},{"f":160,"p":-160},{"f":168,"p":-152},{"f":176,"p":-149},{"f":184,"p":-156},{"f":192,"p":-163},{"f":200,"p":-151},{"f":208,"p":-147},{"f":216,"p":-154},{"f":224,"p":-158},{"f":232,"p":-150},{"f":240,"p":-153},{"f":248,"p":-159},{"f":256,"p":-151},{"f":264,"p":-148},{"f":272,"p":-166},{"f":280,"p":-152},{"f":288,"p":-155},{"f":296,"p":-149},{"f":304,"p":-161},{"f":312,"p":-150},{"f":320,"p":-147},{"f":328,"p":-157},{"f":336,"p":-154},{"f":344,"p":-151},{"f":352,"p":-160},{"f":360,"p":-153},{"f":368,"p":-148},{"f":376,"p":-164},{"f":384,"p":-150},{"f":392,"p":-155},{"f":400,"p":-152},{"f":408,"p":-149},{"f":416,"p":-159},{"f":424,"p":-151},{"f":432,"p":-156},{"f":440,"p":-146},{"f":448,"p":-162},{"f":456,"p":-153},{"f":464,"p":-150},{"f":472,"p":-158},{"f":480,"p":-154},{"f":488,"p":-148},{"f":496,"p":-161},{"f":504,"p":-151},{"f":512,"p":-149},{"f":520,"p":-157},{"f":528,"p":-153},{"f":536,"p":-167},{"f":544,"p":-147},{"f":552,"p":-152},{"f":560,"p":-156},{"f":568,"p":-150},{"f":576,"p":-159},{"f":584,"p":-148},{"f":592,"p":-154},{"f":600,"p":-162},{"f":608,"p":-151},{"f":616,"p":-149},{"f":624,"p":-158},{"f":632,"p":-153},{"f":640,"p":-146},{"f":648,"p":-155},{"f":656,"p":-160},{"f":664,"p":-152},{"f":672,"p":-150},{"f":680,"p":-165},{"f":688,"p":-148},{"f":696,"p":-154},{"f":704,"p":-151},{"f":712,"p":-157},{"f":720,"p":-149},{"f":728,"p":-158},{"f":736,"p":-153},{"f":744,"p":-147},{"f":752,"p":-161},{"f":760,"p":-151},{"f":768,"p":-156},{"f":776,"p":-152},{"f":784,"p":-163},{"f":792,"p":-150},{"f":800,"p":-155},{"f":808,"p":-148},{"f":816,"p":-157},{"f":824,"p":-152},{"f":832,"p":-145},{"f":840,"p":-159},{"f":848,"p":-153},{"f":856,"p":-156},{"f":864,"p":-149},{"f":872,"p":-164},{"f":880,"p":-151},{"f":888,"p":-154},{"f":896,"p":-147},{"f":904,"p":-160},{"f":912,"p":-150},{"f":920,"p":-157},{"f":928,"p":-152},{"f":936,"p":-148},{"f":944,"p":-162},{"f":952,"p":-153},{"f":960,"p":-158},{"f":968,"p":-149},{"f":976,"p":-151},{"f":984,"p":-166},{"f":992,"p":-152},{"f":1000,"p":-147},{"f":1008,"p":-155},{"f":1016,"p":-150},{"f":1024,"p":-159},{"f":1032,"p":-148},{"f":1040,"p":-153},{"f":1048,"p":-161},{"f":1056,"p":-149},{"f":1064,"p":-154},{"f":1072,"p":-151},{"f":1080,"p":-158},{"f":1088,"p":-146},{"f":1096,"p":-156},{"f":1104,"p":-163},{"f":1112,"p":-152},{"f":1120,"p":-150},{"f":1128,"p":-159},{"f":1136,"p":-148},{"f":1144,"p":-153},{"f":1152,"p":-157},{"f":1160,"p":-151},{"f":1168,"p":-165},{"f":1176,"p":-149},{"f":1184,"p":-154},{"f":1192,"p":-147},{"f":1200,"p":-156},{"f":1208,"p":-152},{"f":1216,"p":-160},{"f":1224,"p":-148},{"f":1232,"p":-151},{"f":1240,"p":-155},{"f":1248,"p":-149},{"f":1256,"p":-162},{"f":1264,"p":-153},{"f":1272,"p":-150},{"f":1280,"p":-147},{"f":1288,"p":-157},{"f":1296,"p":-152},{"f":1304,"p":-161},{"f":1312,"p":-150},{"f":1320,"p":-154},{"f":1328,"p":-148},{"f":1336,"p":-159},{"f":1344,"p":-151},{"f":1352,"p":-167},{"f":1360,"p":-152},{"f":1368,"p":-149},{"f":1376,"p":-156},{"f":1384,"p":-151},{"f":1392,"p":-159},{"f":1400,"p":-146},{"f":1408,"p":-155},{"f":1416,"p":-153},{"f":1424,"p":-162},{"f":1432,"p":-150},{"f":1440,"p":-154},{"f":1448,"p":-148},{"f":1456,"p":-158},{"f":1464,"p":-150},{"f":1472,"p":-164},{"f":1480,"p":-151},{"f":1488,"p":-149},{"f":1496,"p":-156},{"f":1504,"p":-152},{"f":1512,"p":-160},{"f":1520,"p":-145},{"f":1528,"p":-155},{"f":1536,"p":-153},{"f":1544,"p":-159},{"f":1552,"p":-150},{"f":1560,"p":-148},{"f":1568,"p":-157},{"f":1576,"p":-152},{"f":1584,"p":-163},{"f":1592,"p":-151},{"f":1600,"p":-156},{"f":1608,"p":-147},{"f":1616,"p":-154},{"f":1624,"p":-161},{"f":1632,"p":-149},{"f":1640,"p":-153},{"f":1648,"p":-151},{"f":1656,"p":-158},{"f":1664,"p":-150},{"f":1672,"p":-165},{"f":1680,"p":-148},{"f":1688,"p":-155},{"f":1696,"p":-152},{"f":1704,"p":-157},{"f":1712,"p":-146},{"f":1720,"p":-160},{"f":1728,"p":-151},{"f":1736,"p":-153},{"f":1744,"p":-156},{"f":1752,"p":-149},{"f":1760,"p":-162},{"f":1768,"p":-150},{"f":1776,"p":-154},{"f":1784,"p":-148},{"f":1792,"p":-159},{"f":1800,"p":-152},{"f":1808,"p":-149},{"f":1816,"p":-166},{"f":1824,"p":-151},{"f":1832,"p":-155},{"f":1840,"p":-147},{"f":1848,"p":-157},{"f":1856,"p":-153},{"f":1864,"p":-150},{"f":1872,"p":-161},{"f":1880,"p":-151},{"f":1888,"p":-154},{"f":1896,"p":-148},{"f":1904,"p":-158},{"f":1912,"p":-152},{"f":1920,"p":-150},{"f":1928,"p":-163},{"f":1936,"p":-149},{"f":1944,"p":-155},{"f":1952,"p":-153},{"f":1960,"p":-147},{"f":1968,"p":-159},{"f":1976,"p":-151},{"f":1984,"p":-156},{"f":1992,"p":-144},{"f":2000,"p":-157},
{"f":4,"p":-157},{"f":12,"p":-144},{"f":20,"p":-156},{"f":28,"p":-151},{"f":36,"p":-159},{"f":44,"p":-147},{"f":52,"p":-153},{"f":60,"p":-155},{"f":68,"p":-149},{"f":76,"p":-163},{"f":84,"p":-150},{"f":92,"p":-152},{"f":100,"p":-158},{"f":108,"p":-148},{"f":116,"p":-154},{"f":124,"p":-151},{"f":132,"p":-161},{"f":140,"p":-150},{"f":148,"p":-153},{"f":156,"p":-157},{"f":164,"p":-147},{"f":172,"p":-155},{"f":180,"p":-151},{"f":188,"p":-166},{"f":196,"p":-149},{"f":204,"p":-152},{"f":212,"p":-159},{"f":220,"p":-148},{"f":228,"p":-154},{"f":236,"p":-150},{"f":244,"p":-162},{"f":252,"p":-149},{"f":260,"p":-156},{"f":268,"p":-153},{"f":276,"p":-151},{"f":284,"p":-160},{"f":292,"p":-146},{"f":300,"p":-157},{"f":308,"p":-152},{"f":316,"p":-155},{"f":324,"p":-148},{"f":332,"p":-165},{"f":340,"p":-150},{"f":348,"p":-158},{"f":356,"p":-151},{"f":364,"p":-153},{"f":372,"p":-149},{"f":380,"p":-161},{"f":388,"p":-154},{"f":396,"p":-147},{"f":404,"p":-156},{"f":412,"p":-151},{"f":420,"p":-163},{"f":428,"p":-152},{"f":436,"p":-157},{"f":444,"p":-148},{"f":452,"p":-150},{"f":460,"p":-159},{"f":468,"p":-153},{"f":476,"p":-155},{"f":484,"p":-145},{"f":492,"p":-160},{"f":500,"p":-152},{"f":508,"p":-156},{"f":516,"p":-149},{"f":524,"p":-151},{"f":532,"p":-164},{"f":540,"p":-150},{"f":548,"p":-158},{"f":556,"p":-148},{"f":564,"p":-154},{"f":572,"p":-150},{"f":580,"p":-162},{"f":588,"p":-153},{"f":596,"p":-155},{"f":604,"p":-146},{"f":612,"p":-159},{"f":620,"p":-151},{"f":628,"p":-156},{"f":636,"p":-149},{"f":644,"p":-152},{"f":652,"p":-167},{"f":660,"p":-151},{"f":668,"p":-159},{"f":676,"p":-148},{"f":684,"p":-154},{"f":692,"p":-150},{"f":700,"p":-161},{"f":708,"p":-152},{"f":716,"p":-157},{"f":724,"p":-147},{"f":732,"p":-150},{"f":740,"p":-153},{"f":748,"p":-162},{"f":756,"p":-149},{"f":764,"p":-155},{"f":772,"p":-151},{"f":780,"p":-148},{"f":788,"p":-160},{"f":796,"p":-152},{"f":804,"p":-156},{"f":812,"p":-147},{"f":820,"p":-154},{"f":828,"p":-149},{"f":836,"p":-165},{"f":844,"p":-151},{"f":852,"p":-157},{"f":860,"p":-153},{"f":868,"p":-148},{"f":876,"p":-159},{"f":884,"p":-150},{"f":892,"p":-152},{"f":900,"p":-163},{"f":908,"p":-156},{"f":916,"p":-146},{"f":924,"p":-158},{"f":932,"p":-151},{"f":940,"p":-154},{"f":948,"p":-149},{"f":956,"p":-161},{"f":964,"p":-153},{"f":972,"p":-148},{"f":980,"p":-159},{"f":988,"p":-150},{"f":996,"p":-155},{"f":1004,"p":-147},{"f":1012,"p":-152},{"f":1020,"p":-166},{"f":1028,"p":-151},{"f":1036,"p":-149},{"f":1044,"p":-158},{"f":1052,"p":-153},{"f":1060,"p":-162},{"f":1068,"p":-148},{"f":1076,"p":-152},{"f":1084,"p":-157},{"f":1092,"p":-150},{"f":1100,"p":-160},{"f":1108,"p":-147},{"f":1116,"p":-154},{"f":1124,"p":-151},{"f":1132,"p":-164},{"f":1140,"p":-149},{"f":1148,"p":-156},{"f":1156,"p":-153},{"f":1164,"p":-159},{"f":1172,"p":-145},{"f":1180,"p":-152},{"f":1188,"p":-157},{"f":1196,"p":-148},{"f":1204,"p":-155},{"f":1212,"p":-150},{"f":1220,"p":-163},{"f":1228,"p":-152},{"f":1236,"p":-156},{"f":1244,"p":-151},{"f":1252,"p":-161},{"f":1260,"p":-147},{"f":1268,"p":-153},{"f":1276,"p":-158},{"f":1284,"p":-149},{"f":1292,"p":-157},{"f":1300,"p":-151},{"f":1308,"p":-154},{"f":1316,"p":-148},{"f":1324,"p":-165},{"f":1332,"p":-150},{"f":1340,"p":-152},{"f":1348,"p":-160},{"f":1356,"p":-155},{"f":1364,"p":-146},{"f":1372,"p":-153},{"f":1380,"p":-158},{"f":1388,"p":-149},{"f":1396,"p":-151},{"f":1404,"p":-162},{"f":1412,"p":-154},{"f":1420,"p":-148},{"f":1428,"p":-159},{"f":1436,"p":-150},{"f":1444,"p":-156},{"f":1452,"p":-152},{"f":1460,"p":-147},{"f":1468,"p":-167},{"f":1476,"p":-153},{"f":1484,"p":-157},{"f":1492,"p":-149},{"f":1500,"p":-151},{"f":1508,"p":-161},{"f":1516,"p":-148},{"f":1524,"p":-154},{"f":1532,"p":-158},{"f":1540,"p":-150},{"f":1548,"p":-153},{"f":1556,"p":-162},{"f":1564,"p":-146},{"f":1572,"p":-156},{"f":1580,"p":-151},{"f":1588,"p":-159},{"f":1596,"p":-149},{"f":1604,"p":-152},{"f":1612,"p":-155},{"f":1620,"p":-150},{"f":1628,"p":-164},{"f":1636,"p":-148},{"f":1644,"p":-153},{"f":1652,"p":-160},{"f":1660,"p":-151},{"f":1668,"p":-154},{"f":1676,"p":-157},{"f":1684,"p":-147},{"f":1692,"p":-150},{"f":1700,"p":-161},{"f":1708,"p":-149},{"f":1716,"p":-155},{"f":1724,"p":-152},{"f":1732,"p":-166},{"f":1740,"p":-148},{"f":1748,"p":-151},{"f":1756,"p":-159},{"f":1764,"p":-153},{"f":1772,"p":-150},{"f":1780,"p":-158},{"f":1788,"p":-154},{"f":1796,"p":-147},{"f":1804,"p":-151},{"f":1812,"p":-163},{"f":1820,"p":-156},{"f":1828,"p":-149},{"f":1836,"p":-152},{"f":1844,"p":-160},{"f":1852,"p":-148},{"f":1860,"p":-157},{"f":1868,"p":-153},{"f":1876,"p":-151},{"f":1884,"p":-162},{"f":1892,"p":-150},{"f":1900,"p":-154},{"f":1908,"p":-158},{"f":1916,"p":-147},{"f":1924,"p":-155},{"f":1932,"p":-149},{"f":1940,"p":-165},{"f":1948,"p":-152},{"f":1956,"p":-159},{"f":1964,"p":-150},{"f":1972,"p":-153},{"f":1980,"p":-161},{"f":1988,"p":-148},{"f":1996,"p":-157}]
},
"spacing": 106,
"bounds": "flush",
"resolve": {"scale": {"color": "independent", "strokeDash": "independent"}, "legend": {"color": "independent", "strokeDash": "independent"}},
"vconcat": [
 {
  "width": 600, "height": 276,
  "resolve": {"axis": {"x": "independent", "y": "independent"}},
  "layer": [
   {"data": {"name": "waveSim"},
    "mark": {"type": "line", "strokeWidth": 3, "clip": true},
    "encoding": {
     "x": {"field": "t", "type": "quantitative", "scale": {"domain": [0, 5], "nice": false, "zero": false}, "axis": {"orient": "bottom", "values": [0, 1, 2, 3, 4, 5], "title": "Time (ns)", "labelExpr": "datum.value + ''"}},
     "y": {"field": "v", "type": "quantitative", "scale": {"domain": [-1, 1.65], "nice": false, "zero": false}, "axis": {"orient": "left", "values": [-1, -0.5, 0, 0.5, 1, 1.5], "title": "Voltage (V)", "titleX": -69, "titleY": 138, "labelExpr": "datum.value + ''"}},
     "color": {"datum": "Simulation Result", "type": "nominal", "scale": {"domain": ["Simulation Result", "Experiment Data"], "range": ["#0072BD", "#D95319"]}, "legend": {"title": null, "legendX": 303, "legendY": 9, "symbolStrokeWidth": 3}},
     "strokeDash": {"datum": "Simulation Result", "type": "nominal", "scale": {"domain": ["Simulation Result", "Experiment Data"], "range": [[1, 0], [9, 4]]}, "legend": {"title": null, "legendX": 303, "legendY": 9, "symbolStrokeWidth": 3}}
    }},
   {"data": {"name": "waveExp"},
    "mark": {"type": "line", "strokeWidth": 3, "clip": true},
    "encoding": {
     "x": {"field": "t", "type": "quantitative", "scale": {"domain": [0, 5], "nice": false, "zero": false}, "axis": {"orient": "top", "values": [0, 1, 2, 3, 4, 5], "title": "(a)", "titleY": 347}},
     "y": {"field": "v", "type": "quantitative", "scale": {"domain": [-1, 1.65], "nice": false, "zero": false}, "axis": {"orient": "right", "values": [-1, -0.5, 0, 0.5, 1, 1.5], "title": null}},
     "color": {"datum": "Experiment Data", "type": "nominal"},
     "strokeDash": {"datum": "Experiment Data", "type": "nominal"}
    }}
  ]
 },
 {
  "width": 600, "height": 278,
  "resolve": {"axis": {"x": "independent", "y": "independent"}},
  "layer": [
   {"data": {"name": "pdfSim"},
    "mark": {"type": "line", "strokeWidth": 3, "clip": true},
    "encoding": {
     "x": {"field": "x", "type": "quantitative", "scale": {"domain": [-0.97, 0.97], "nice": false, "zero": false}, "axis": {"orient": "bottom", "values": [-0.5, 0, 0.5], "title": "Voltage (V)", "labelExpr": "datum.value + ''"}},
     "y": {"field": "p", "type": "quantitative", "scale": {"domain": [0, 0.035], "nice": false, "zero": false}, "axis": {"orient": "left", "values": [0, 0.01, 0.02, 0.03], "title": "Probability", "titleX": -75, "titleY": 139, "labelExpr": "datum.value + ''"}},
     "color": {"datum": "Simulation Result", "type": "nominal", "scale": {"domain": ["Simulation Result", "Experiment Data"], "range": ["#0072BD", "#D95319"]}, "legend": {"title": null, "legendX": 264, "legendY": 17, "symbolStrokeWidth": 3}},
     "strokeDash": {"datum": "Simulation Result", "type": "nominal", "scale": {"domain": ["Simulation Result", "Experiment Data"], "range": [[1, 0], [9, 4]]}, "legend": {"title": null, "legendX": 264, "legendY": 17, "symbolStrokeWidth": 3}}
    }},
   {"data": {"name": "pdfExp"},
    "mark": {"type": "line", "strokeWidth": 3, "clip": true},
    "encoding": {
     "x": {"field": "x", "type": "quantitative", "scale": {"domain": [-0.97, 0.97], "nice": false, "zero": false}, "axis": {"orient": "top", "values": [-0.5, 0, 0.5], "title": "(b)", "titleY": 350}},
     "y": {"field": "p", "type": "quantitative", "scale": {"domain": [0, 0.035], "nice": false, "zero": false}, "axis": {"orient": "right", "values": [0, 0.01, 0.02, 0.03], "title": null}},
     "color": {"datum": "Experiment Data", "type": "nominal"},
     "strokeDash": {"datum": "Experiment Data", "type": "nominal"}
    }}
  ]
 },
 {
  "width": 600, "height": 279,
  "resolve": {"axis": {"x": "independent", "y": "independent"}},
  "layer": [
   {"data": {"name": "specSim"},
    "mark": {"type": "line", "strokeWidth": 1, "clip": true},
    "encoding": {
     "x": {"field": "f", "type": "quantitative", "scale": {"domain": [0, 2000], "nice": false, "zero": false}, "axis": {"orient": "bottom", "values": [0, 500, 1000, 1500, 2000], "title": "Frequency (MHz)", "labelExpr": "datum.value + ''"}},
     "y": {"field": "p", "type": "quantitative", "scale": {"domain": [-165, -60], "nice": false, "zero": false}, "axis": {"orient": "left", "values": [-160, -140, -120, -100, -80, -60], "title": "Power (dB)", "titleX": -77, "titleY": 139.5, "labelExpr": "datum.value + ''"}},
     "color": {"datum": "Simulation Result", "type": "nominal", "scale": {"domain": ["Simulation Result", "Experiment Data", "Electrical Noise"], "range": ["#0072BD", "#D95319", "#EDB120"]}, "legend": {"title": null, "legendX": 256, "legendY": 20, "symbolStrokeWidth": 1.2}}
    }},
   {"data": {"name": "specExp"},
    "mark": {"type": "line", "strokeWidth": 1, "clip": true},
    "encoding": {
     "x": {"field": "f", "type": "quantitative", "scale": {"domain": [0, 2000], "nice": false, "zero": false}, "axis": {"orient": "top", "values": [0, 500, 1000, 1500, 2000], "title": "(c)", "titleY": 351}},
     "y": {"field": "p", "type": "quantitative", "scale": {"domain": [-165, -60], "nice": false, "zero": false}, "axis": {"orient": "right", "values": [-160, -140, -120, -100, -80, -60], "title": null}},
     "color": {"datum": "Experiment Data", "type": "nominal"}
    }},
   {"data": {"name": "specNoise"},
    "mark": {"type": "line", "strokeWidth": 1.1, "clip": true},
    "encoding": {
     "x": {"field": "f", "type": "quantitative", "scale": {"domain": [0, 2000], "nice": false, "zero": false}, "axis": null},
     "y": {"field": "p", "type": "quantitative", "scale": {"domain": [-165, -60], "nice": false, "zero": false}, "axis": null},
     "color": {"datum": "Electrical Noise", "type": "nominal"}
    }}
  ]
 }
]
}
